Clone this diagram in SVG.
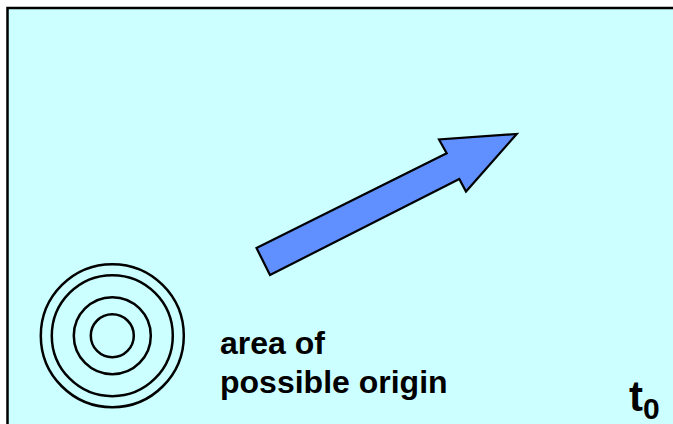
<svg xmlns="http://www.w3.org/2000/svg" width="673" height="424" viewBox="0 0 673 424">
<style>
.ring{fill:none;stroke:#000;stroke-width:2.5}
.lbl{font-family:"Liberation Sans",Arial,sans-serif;font-weight:bold;fill:#000}
</style>
<rect width="673" height="424" fill="#fff"/>
<rect id="frame" x="7.5" y="8" width="680" height="430" fill="#CCFFFF" stroke="#000" stroke-width="2.5"/>
<g id="target">
<circle class="ring" cx="112.3" cy="335.7" r="71.5"/>
<circle class="ring" cx="112.3" cy="335.7" r="60.5"/>
<circle class="ring" cx="112.3" cy="335.7" r="38.5"/>
<circle class="ring" cx="112.3" cy="335.7" r="21.5"/>
</g>
<g id="arrow">
<polygon points="256.5,248 446.7,153.3 439,139.5 516.7,134 466,191.5 459.3,179 270,275" fill="#6090FF" stroke="#000" stroke-width="2.2" stroke-linejoin="miter"/>
</g>
<g id="label">
<text class="lbl" x="220" y="354" font-size="32">area of</text>
<text class="lbl" x="220" y="392.5" font-size="32">possible origin</text>
</g>
<g id="time">
<text class="lbl" x="629" y="410.7" font-size="42">t<tspan font-size="30" y="419">0</tspan></text>
</g>
</svg>
